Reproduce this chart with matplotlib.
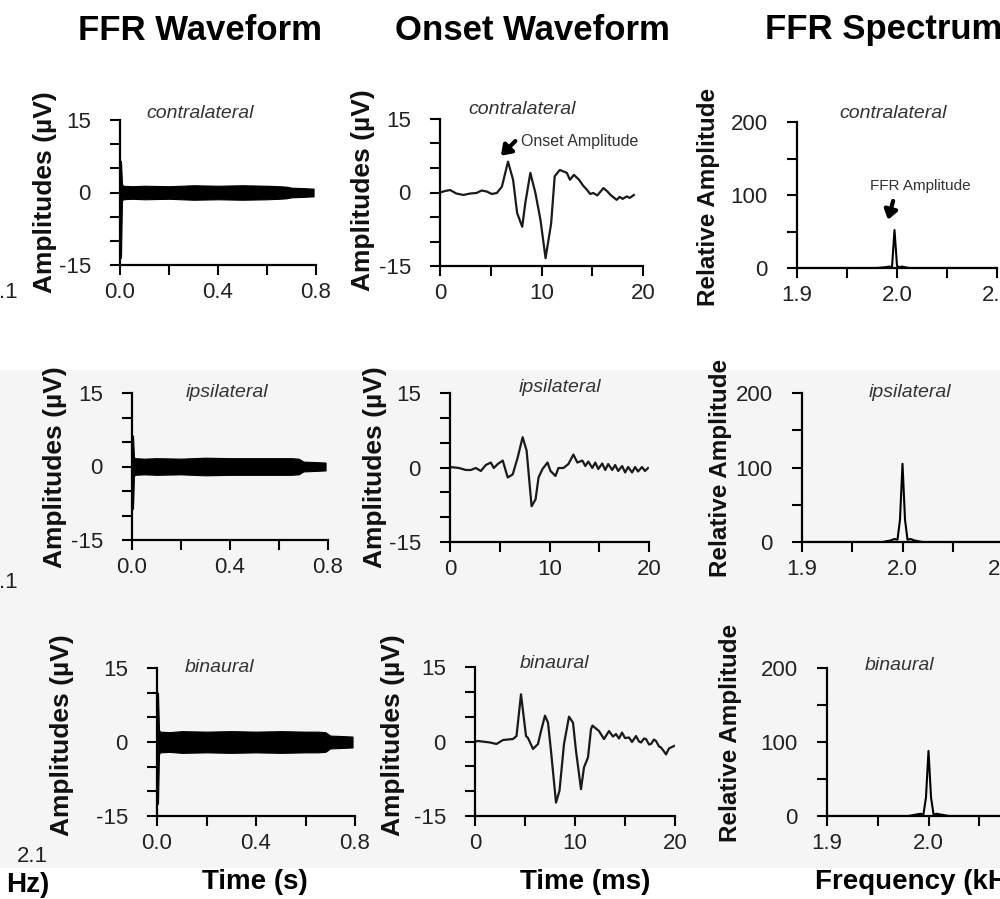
import matplotlib
matplotlib.use("Agg")
import matplotlib.pyplot as plt
from matplotlib.patches import Rectangle

# ---------------- data ----------------
conditions = ["contralateral", "ipsilateral", "binaural"]
column_titles = ["FFR Waveform", "Onset Waveform", "FFR Spectrum"]

# FFR waveform envelopes (µV) vs time (s)
ffr_time = [0.0, 0.004, 0.008, 0.012, 0.05, 0.1, 0.2, 0.3, 0.4, 0.5, 0.6, 0.65, 0.68, 0.7, 0.75, 0.79]
ffr_upper = {
    "contralateral": [6.5, 6.5, 1.8, 1.4, 1.3, 1.4, 1.3, 1.5, 1.4, 1.5, 1.4, 1.3, 1.2, 1.0, 0.9, 0.8],
    "ipsilateral":   [6.3, 6.3, 2.0, 1.7, 1.6, 1.7, 1.6, 1.8, 1.7, 1.7, 1.7, 1.7, 1.6, 1.0, 0.9, 0.8],
    "binaural":      [10.0, 10.0, 2.5, 2.1, 2.0, 2.2, 2.1, 2.2, 2.1, 2.2, 2.1, 2.1, 2.0, 1.3, 1.2, 1.1],
}
ffr_lower = {
    "contralateral": [-13.5, -13.5, -1.8, -1.4, -1.3, -1.4, -1.3, -1.5, -1.4, -1.5, -1.4, -1.3, -1.2, -1.0, -0.9, -0.8],
    "ipsilateral":   [-8.6, -8.6, -2.0, -1.7, -1.6, -1.7, -1.6, -1.8, -1.7, -1.7, -1.7, -1.7, -1.6, -1.0, -0.9, -0.8],
    "binaural":      [-12.5, -12.5, -2.5, -2.1, -2.0, -2.2, -2.1, -2.2, -2.1, -2.2, -2.1, -2.1, -2.0, -1.3, -1.2, -1.1],
}
ffr_end = {"contralateral": 0.79, "ipsilateral": 0.8, "binaural": 0.8}

# Onset waveforms: time (ms), amplitude (µV)
onset_t = {
    "contralateral": [0, 0.5, 1.0, 1.6, 2.3, 3.0, 3.6, 4.1, 4.6, 5.1, 5.6, 6.1, 6.7, 7.2, 7.6, 8.1, 8.4,
                      8.9, 9.4, 9.9, 10.4, 10.95, 11.3, 11.8, 12.5, 12.8, 13.2, 13.7, 14.1, 14.5, 14.8,
                      15.1, 15.5, 16.1, 16.5, 16.8, 17.1, 17.4, 17.7, 18.0, 18.4, 18.7, 19.1],
    "ipsilateral": [0, 0.9, 1.6, 2.1, 2.6, 3.1, 3.6, 4.1, 4.4, 4.8, 5.3, 5.8, 6.3, 6.8, 7.3, 7.7, 8.2,
                    8.6, 8.9, 9.3, 9.8, 10.1, 10.6, 10.9, 11.4, 11.9, 12.4, 12.8, 13.3, 13.6, 13.9,
                    14.3, 14.6, 14.9, 15.3, 15.6, 15.9, 16.3, 16.6, 16.9, 17.3, 17.6, 17.9, 18.3,
                    18.6, 18.9, 19.3, 19.6, 19.9],
    "binaural": [0.0, 0.3, 1.5, 2.15, 2.8, 3.8, 4.15, 4.6, 5.1, 5.3, 5.8, 6.3, 6.6, 7.0, 7.3, 7.6, 8.1,
                 8.45, 8.9, 9.4, 9.8, 10.1, 10.6, 10.9, 11.3, 11.6, 11.75, 12.4, 12.9, 13.4, 13.8,
                 14.1, 14.4, 14.7, 15.0, 15.4, 15.7, 16.1, 16.4, 16.6, 16.9, 17.1, 17.4, 17.6,
                 17.9, 18.1, 18.4, 18.6, 18.9, 19.1, 19.4, 19.6, 19.9],
}
onset_v = {
    "contralateral": [0, 0.3, 0.5, -0.2, -0.5, -0.2, -0.1, 0.4, 0.2, -0.3, -0.1, 1.2, 6.3, 2.6, -4.2, -7.0,
                      -2.2, 4.0, -0.1, -5.6, -13.4, -6.3, 3.3, 4.6, 4.0, 2.6, 3.6, 2.6, 1.4, 0.5, -0.3,
                      -0.1, -0.6, 0.9, 0.2, -0.5, -1.0, -1.5, -0.9, -1.3, -0.8, -1.1, -0.5],
    "ipsilateral": [0.1, -0.1, -0.5, -0.5, -0.1, -0.7, 0.5, 1.0, -0.1, 0.7, 1.4, -2.0, -1.4, 2.0, 6.1, 3.4,
                    -7.8, -6.4, -2.0, -0.3, 1.0, -0.7, -1.7, -0.1, -0.1, 0.7, 2.6, 1.0, 1.4, 0.3, 1.2,
                    -0.1, 1.0, -0.3, 0.8, -0.5, 0.7, -0.5, 0.5, -0.7, 0.3, -1.0, 0.1, -1.0, 0.1, -0.8,
                    0.1, -0.7, -0.1],
    "binaural": [0.0, 0.1, -0.2, -0.5, 0.3, 0.5, 1.1, 9.5, 1.1, 0.7, -1.5, -0.5, 2.1, 5.2, 3.8, -1.9,
                 -12.3, -9.9, -0.5, 5.0, 3.8, -1.9, -9.6, -5.2, -3.2, 2.5, 3.2, 2.1, 0.5, 2.1, 1.0,
                 1.5, 0.6, 1.8, 0.7, 0.8, -0.1, 1.1, 0.0, -0.2, 0.6, 0.5, -0.6, -0.5, 0.4, 0.1, -1.0,
                 -1.2, -2.0, -2.6, -1.4, -1.2, -0.9],
}

# FFR spectrum: frequency (kHz), relative amplitude
spec_f = [1.9, 1.98, 1.988, 1.992, 1.995, 1.9975, 2.0, 2.0025, 2.005, 2.008, 2.012, 2.02, 2.1]
spec_a = {
    "contralateral": [0, 0, 1, 2, 1, 52, 3, 1, 2, 1, 0, 0, 0],
    "ipsilateral":   [0, 0, 2, 4, 3, 30, 105, 30, 3, 4, 2, 0, 0],
    "binaural":      [0, 0, 2, 3, 2, 25, 88, 25, 2, 3, 2, 0, 0],
}

# ---------------- figure ----------------
W, H = 1000, 899
plt.rcParams["font.family"] = ["Liberation Sans", "DejaVu Sans"]
fig = plt.figure(figsize=(W / 100, H / 100), dpi=100)
fig.patch.set_facecolor("white")
fig.patches.append(Rectangle((0, 1 - 868 / H), 1, (868 - 370) / H, transform=fig.transFigure,
                             facecolor="#f5f5f5", edgecolor="none", zorder=-10))


def rect(l, t, w, h):
    return [l / W, 1 - (t + h) / H, w / W, h / H]


def px(x, y):
    return x / W, 1 - y / H


axes_px = {
    (0, 0): (120, 120, 196, 145), (0, 1): (440, 119, 203, 147), (0, 2): (797, 122, 200, 146),
    (1, 0): (132, 393, 196, 147), (1, 1): (450, 393, 199, 149), (1, 2): (802, 393, 201, 149),
    (2, 0): (157, 668, 198, 148), (2, 1): (475, 667, 200, 149), (2, 2): (827, 668, 203, 148),
}


def style(ax):
    for s in ("top", "right"):
        ax.spines[s].set_visible(False)
    for s in ("left", "bottom"):
        ax.spines[s].set_linewidth(1.6)
        ax.spines[s].set_color("black")
    ax.set_facecolor("none")
    ax.tick_params(axis="both", direction="out", length=7, width=1.5, labelsize=16,
                   labelcolor="#222222", color="black")
    ax.tick_params(axis="y", pad=14)
    ax.tick_params(axis="x", pad=5)


for r, cond in enumerate(conditions):
    # FFR waveform
    ax = fig.add_axes(rect(*axes_px[(r, 0)]))
    style(ax)
    tt = [t for t in ffr_time if t <= ffr_end[cond]]
    n = len(tt)
    ax.fill_between(tt, ffr_lower[cond][:n], ffr_upper[cond][:n], color="black", lw=0.8)
    ax.set_xlim(0, 0.8)
    ax.set_ylim(-15, 15)
    ax.set_xticks([0, 0.2, 0.4, 0.6, 0.8])
    ax.set_xticklabels(["0.0", "", "0.4", "", "0.8"])
    ax.set_yticks([-15, -10, -5, 0, 5, 10, 15])
    ax.set_yticklabels(["-15", "", "", "0", "", "", "15"])

    # Onset waveform
    ax2 = fig.add_axes(rect(*axes_px[(r, 1)]))
    style(ax2)
    ax2.plot(onset_t[cond], onset_v[cond], color="#1a1a1a", lw=1.6)
    ax2.set_xlim(0, 20)
    ax2.set_ylim(-15, 15)
    ax2.set_xticks([0, 5, 10, 15, 20])
    ax2.set_xticklabels(["0", "", "10", "", "20"])
    ax2.set_yticks([-15, -10, -5, 0, 5, 10, 15])
    ax2.set_yticklabels(["-15", "", "", "0", "", "", "15"])
    if r == 0:
        ax2.annotate("Onset Amplitude", xy=(6.0, 7.5), xytext=(8.0, 10.5),
                     fontsize=11.5, color="#333333", va="center", ha="left",
                     arrowprops=dict(arrowstyle="-|>,head_width=0.35,head_length=0.5",
                                     color="black", lw=3.0, shrinkA=0, shrinkB=0,
                                     relpos=(-0.05, 0.5)))

    # FFR spectrum
    ax3 = fig.add_axes(rect(*axes_px[(r, 2)]))
    style(ax3)
    ax3.plot(spec_f, spec_a[cond], color="black", lw=1.5)
    ax3.set_xlim(1.9, 2.1)
    ax3.set_ylim(0, 200)
    ax3.set_xticks([1.9, 1.95, 2.0, 2.05, 2.1])
    ax3.set_xticklabels(["1.9", "", "2.0", "", "2.1"])
    ax3.set_yticks([0, 50, 100, 150, 200])
    ax3.set_yticklabels(["0", "", "100", "", "200"])
    if r == 0:
        ax3.annotate("FFR Amplitude", xy=(1.991, 66), xytext=(1.973, 113),
                     fontsize=11, color="#333333", va="center", ha="left",
                     arrowprops=dict(arrowstyle="-|>,head_width=0.35,head_length=0.5",
                                     color="black", lw=3.0, shrinkA=0, shrinkB=0,
                                     relpos=(0.23, -0.6)))

# column titles
fig.text(*px(200, 30), column_titles[0], ha="center", va="center", fontsize=25, fontweight="bold")
fig.text(*px(532, 30), column_titles[1], ha="center", va="center", fontsize=25, fontweight="bold")
fig.text(*px(765, 30), column_titles[2], ha="left", va="center", fontsize=25, fontweight="bold")

# panel sub-titles
sub_pos = {
    (0, 0): (200, 113), (0, 1): (522, 109), (0, 2): (893, 113),
    (1, 0): (227, 393), (1, 1): (560, 387), (1, 2): (910, 393),
    (2, 0): (220, 667), (2, 1): (555, 663), (2, 2): (900, 665),
}
for (r, c), (x, y) in sub_pos.items():
    fig.text(*px(x, y), conditions[r], ha="center", va="center", fontsize=14,
             style="italic", color="#333333")

# y labels
ylab_pos = {
    (0, 0): (45, 192), (1, 0): (55, 467), (2, 0): (62, 735),
    (0, 1): (363, 190), (1, 1): (375, 467), (2, 1): (393, 735),
    (0, 2): (708, 197), (1, 2): (720, 468), (2, 2): (730, 733),
}
for (r, c), (x, y) in ylab_pos.items():
    if c < 2:
        fig.text(*px(x, y), "Amplitudes (µV)", rotation=90, ha="center", va="center",
                 fontsize=19, fontweight="bold", color="#111111")
    else:
        fig.text(*px(x, y), "Relative Amplitude", rotation=90, ha="center", va="center",
                 fontsize=17.5, fontweight="bold", color="#111111")

# x labels
fig.text(*px(255, 882), "Time (s)", ha="center", va="center", fontsize=20, fontweight="bold")
fig.text(*px(585, 882), "Time (ms)", ha="center", va="center", fontsize=20, fontweight="bold")
fig.text(*px(815, 882), "Frequency (kHz)", ha="left", va="center", fontsize=20, fontweight="bold")

# stray fragments at the left edge
fig.text(*px(8, 292), ".1", ha="center", va="center", fontsize=16, color="#222222")
fig.text(*px(8, 582), ".1", ha="center", va="center", fontsize=16, color="#222222")
fig.text(*px(32, 856), "2.1", ha="center", va="center", fontsize=16, color="#222222")
fig.text(*px(28, 885), "Hz)", ha="center", va="center", fontsize=20, fontweight="bold")

fig.savefig("out.png", dpi=100)
